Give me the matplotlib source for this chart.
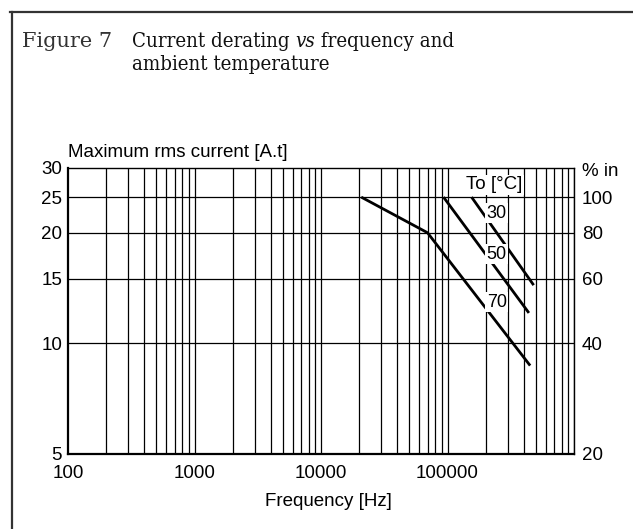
import matplotlib
matplotlib.use("Agg")
import matplotlib.pyplot as plt
from matplotlib.lines import Line2D
from matplotlib import font_manager

plt.rcParams['font.family'] = ['Liberation Sans', 'DejaVu Sans']

# curves (frequency in Hz, current in A.t)
freq_30 = [155000, 480000]
cur_30 = [25, 14.4]
freq_50 = [93000, 440000]
cur_50 = [25, 12.1]
freq_70 = [20800, 69500, 450000]
cur_70 = [25, 20, 8.7]

x_ticks = [100, 1000, 10000, 100000]
y_ticks = [5, 10, 15, 20, 25, 30]
pct_ticks = [20, 40, 60, 80, 100]
h_grid = [10, 15, 20, 25]

W, H = 633, 529
fig = plt.figure(figsize=(W / 100, H / 100), dpi=100)
ax = fig.add_axes([68 / W, 1 - 454 / H, (574 - 68) / W, (454 - 168) / H])

ax.set_xscale('log')
ax.set_yscale('log')
ax.set_xlim(100, 1e6)
ax.set_ylim(5, 30)

# vertical grid on every 1..9 step of each decade
for dec in [100, 1000, 10000, 100000]:
    for m in range(2, 11):
        ax.axvline(dec * m, color='black', lw=0.9, zorder=1)
for v in h_grid:
    ax.axhline(v, color='black', lw=0.9, zorder=1)

for f, c in [(freq_30, cur_30), (freq_50, cur_50), (freq_70, cur_70)]:
    ax.plot(f, c, color='black', lw=2.0, solid_capstyle='butt', zorder=3)

ax.set_xticks(x_ticks)
ax.set_xticklabels([str(v) for v in x_ticks])
ax.set_yticks(y_ticks)
ax.set_yticklabels([str(v) for v in y_ticks])
ax.minorticks_off()
ax.tick_params(length=0, labelsize=13.5, pad=4.3)
ax.tick_params(axis='x', pad=8)

for s in ['left', 'bottom']:
    ax.spines[s].set_linewidth(1.6)
for s in ['top', 'right']:
    ax.spines[s].set_linewidth(1.0)

ax2 = ax.twinx()
ax2.set_yscale('log')
ax2.set_ylim(20, 120)
ax2.set_yticks(pct_ticks)
ax2.set_yticklabels([str(v) for v in pct_ticks])
ax2.minorticks_off()
ax2.tick_params(length=0, labelsize=13.5, pad=5.8)
for s in ax2.spines.values():
    s.set_visible(False)

box = dict(facecolor='white', edgecolor='none', pad=1.0)
ax.text(234000, 26.97, 'To [°C]', ha='center', va='center', fontsize=13.5, bbox=box, zorder=4)
ax.text(245000, 22.6, '30', ha='center', va='center', fontsize=13, bbox=box, zorder=4)
ax.text(245000, 17.5, '50', ha='center', va='center', fontsize=13, bbox=box, zorder=4)
ax.text(245000, 12.95, '70', ha='center', va='center', fontsize=13, bbox=box, zorder=4)

fig.text(68 / W, 1 - 152 / H, 'Maximum rms current [A.t]', ha='left', va='center', fontsize=13.5)
fig.text(582 / W, 1 - 172 / H, '% in', ha='left', va='center', fontsize=13.5)
fig.text(328 / W, 1 - 502 / H, 'Frequency [Hz]', ha='center', va='center', fontsize=13.5)

# title, drawn piece by piece; condensed serif if available
cond = [f for f in font_manager.fontManager.ttflist
        if f.name == 'DejaVu Serif' and f.stretch == 'condensed']
stretch = 'condensed' if cond else 'normal'
serif = ['DejaVu Serif']
renderer = fig.canvas.get_renderer()

fig.text(22 / W, 1 - 47 / H, 'Figure 7', ha='left', va='baseline', fontsize=15,
         family=serif, color='#333333')
x0 = 132 / W
for piece, style in [('Current derating ', 'normal'), ('vs', 'italic'), (' frequency and', 'normal')]:
    t = fig.text(x0, 1 - 47 / H, piece, ha='left', va='baseline', fontsize=14.7,
                 family=serif, style=style, stretch=stretch, color='#111111')
    bb = t.get_window_extent(renderer)
    x0 = bb.x1 / W
fig.text(132 / W, 1 - 70 / H, 'ambient temperature', ha='left', va='baseline', fontsize=14.7,
         family=serif, stretch=stretch, color='#111111')

# partial frame around the figure
fig.add_artist(Line2D([10 / W, 1], [1 - 12 / H, 1 - 12 / H], color='#333333', lw=1.6))
fig.add_artist(Line2D([12 / W, 12 / W], [0, 1 - 12 / H], color='#333333', lw=1.6))

fig.savefig('out.png', dpi=100)
